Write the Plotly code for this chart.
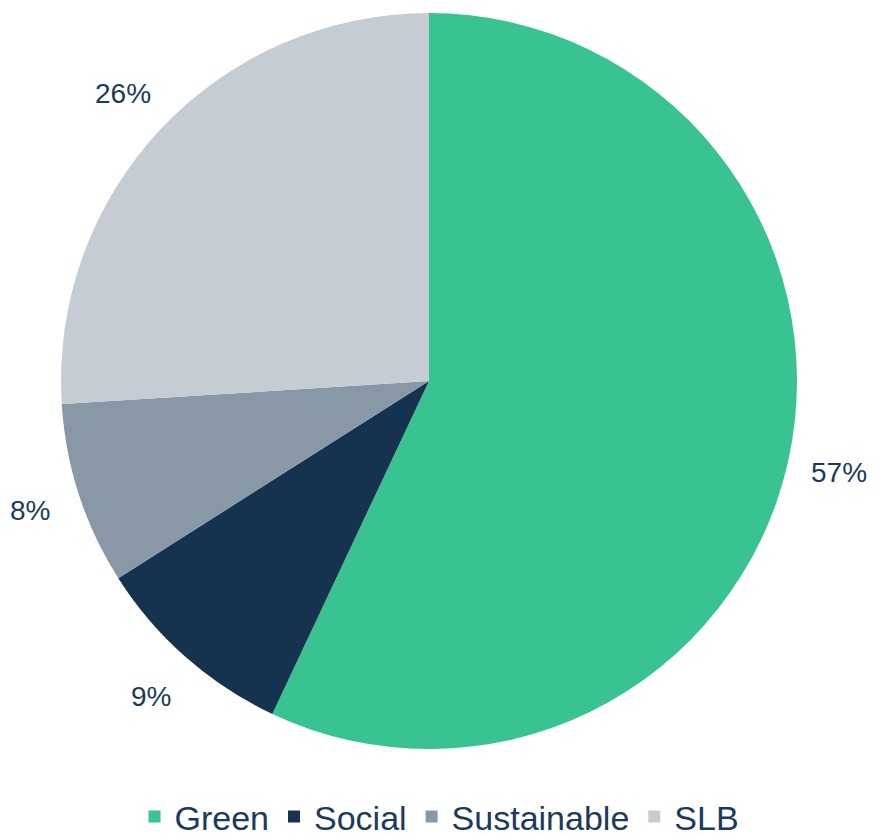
import math
import plotly.graph_objects as go

labels = ["Green", "Social", "Sustainable", "SLB"]
values = [57, 9, 8, 26]
colors = ["#38C391", "#15324F", "#8898A7", "#C5CCD3"]

W, H = 879, 837
# pie placement in pixels (centre and radius)
cx, cy, r = 429, 381, 368
label_r = 420

fig = go.Figure()
fig.add_trace(go.Pie(
    labels=labels,
    values=values,
    sort=False,
    direction="clockwise",
    rotation=0,
    marker=dict(colors=colors, line=dict(width=0)),
    textinfo="none",
    showlegend=True,
    domain=dict(x=[(cx - r) / W, (cx + r) / W], y=[1 - (cy + r) / H, 1 - (cy - r) / H]),
))

# percentage labels placed outside each slice at its mid angle
total = sum(values)
cum = 0
for v in values:
    mid = (cum + v / 2) / total * 2 * math.pi
    cum += v
    px = cx + label_r * math.sin(mid)
    py = cy - label_r * math.cos(mid)
    fig.add_annotation(
        x=px / W, y=1 - py / H, xref="paper", yref="paper",
        text=f"{round(v / total * 100)}%", showarrow=False,
        font=dict(family="Liberation Sans, Arial", size=28, color="#1B3A5C"),
        xanchor="center", yanchor="middle",
    )

fig.update_layout(
    width=W,
    height=H,
    paper_bgcolor="white",
    plot_bgcolor="white",
    font=dict(family="Liberation Sans, Arial", color="#1B3A5C"),
    margin=dict(l=0, r=0, t=0, b=0, autoexpand=False),
    legend=dict(
        orientation="h",
        x=0.5, xanchor="center",
        y=-9 / H, yanchor="bottom",
        font=dict(size=34, color="#1B3A5C"),
        itemwidth=30,
        tracegroupgap=0,
    ),
)

fig.write_html("out.html", config={"displayModeBar": False},
               post_script="document.body.style.margin='0';")
